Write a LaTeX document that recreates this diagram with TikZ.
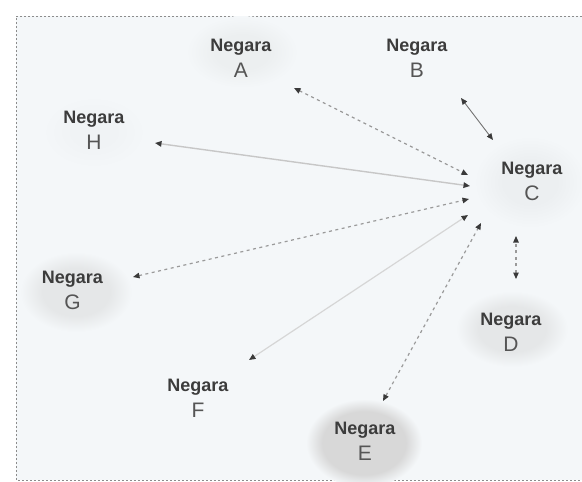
\documentclass[tikz,border=0pt]{standalone}
\usepackage{fontspec}
\setmainfont{Liberation Sans}
\usetikzlibrary{arrows.meta}
\definecolor{bgc}{HTML}{F4F7F9}
\definecolor{framec}{HTML}{8C8C8C}
\definecolor{negc}{HTML}{3C3C3C}
\definecolor{letc}{HTML}{555555}
\definecolor{dashc}{HTML}{9A9A9A}
\definecolor{tipc}{HTML}{3A3A3A}
\definecolor{blobE}{HTML}{D8D8D8}
\definecolor{blobG}{HTML}{E5E7E8}
\definecolor{blobD}{HTML}{E5E7E8}
\definecolor{blobA}{HTML}{ECEFF0}
\definecolor{blobC}{HTML}{ECEFF1}
\definecolor{blobF}{HTML}{F0F3F5}
\pgfdeclareradialshading{softE}{\pgfpoint{0bp}{0bp}}{color(0bp)=(blobE); color(18bp)=(blobE); color(25bp)=(bgc); color(50bp)=(bgc)}
\pgfdeclareradialshading{softG}{\pgfpoint{0bp}{0bp}}{color(0bp)=(blobG); color(15bp)=(blobG); color(25bp)=(bgc); color(50bp)=(bgc)}
\pgfdeclareradialshading{softD}{\pgfpoint{0bp}{0bp}}{color(0bp)=(blobD); color(15bp)=(blobD); color(25bp)=(bgc); color(50bp)=(bgc)}
\pgfdeclareradialshading{softA}{\pgfpoint{0bp}{0bp}}{color(0bp)=(blobA); color(12bp)=(blobA); color(25bp)=(bgc); color(50bp)=(bgc)}
\pgfdeclareradialshading{softC}{\pgfpoint{0bp}{0bp}}{color(0bp)=(blobC); color(12bp)=(blobC); color(25bp)=(bgc); color(50bp)=(bgc)}
\pgfdeclareradialshading{softF}{\pgfpoint{0bp}{0bp}}{color(0bp)=(blobF); color(10bp)=(blobF); color(25bp)=(bgc); color(50bp)=(bgc)}
\begin{document}
\begin{tikzpicture}[x=1pt,y=-1pt,
  country/.style={align=center,inner sep=0pt,text=negc,
    font=\fontsize{18}{26}\selectfont},
  tipstyle/.style={{Triangle[length=6.5pt,width=5.5pt,color=tipc]}-{Triangle[length=6.5pt,width=5.5pt,color=tipc]}},
  dashlink/.style={tipstyle,draw=dashc,line width=1.2pt,dash pattern=on 3pt off 3.5pt},
  solidlink/.style={tipstyle,line width=1.4pt},
  frameline/.style={draw=framec,line width=0.8pt,dash pattern=on 2pt off 2pt}
]
\useasboundingbox (0,0) rectangle (582,482);
\fill[white] (0,0) rectangle (582,482);
\fill[bgc] (16,16) rectangle (582,480);
\draw[frameline] (582,16) -- (16,16) -- (16,480) -- (582,480);
% soft blobs
\shade[shading=softE] (364,443) ellipse [x radius=58, y radius=44];
\shade[shading=softG] (76,292) ellipse [x radius=56, y radius=40];
\shade[shading=softD] (512,329) ellipse [x radius=56, y radius=38];
\shade[shading=softA] (242,52) ellipse [x radius=56, y radius=36];
\shade[shading=softC] (530,182) ellipse [x radius=56, y radius=46];
\shade[shading=softF] (94,132) ellipse [x radius=52, y radius=36];
% countries
\newcommand{\cname}[1]{{\bfseries Negara}\\{\fontsize{21}{26}\selectfont\color{letc}#1}}
\node[country] (A) at (241,58) {\cname{A}};
\node[country] (B) at (417,58) {\cname{B}};
\node[country] (H) at (94,130) {\cname{H}};
\node[country] (C) at (532,181) {\cname{C}};
\node[country] (G) at (72.5,290) {\cname{G}};
\node[country] (D) at (511,332) {\cname{D}};
\node[country] (F) at (198,398) {\cname{F}};
\node[country] (E) at (365,441) {\cname{E}};
% connector ends
\coordinate (a1) at (294,88);
\coordinate (c1) at (468,175);
\coordinate (b1) at (461,98);
\coordinate (c2) at (493,140);
\coordinate (h1) at (155,143);
\coordinate (c3) at (470,186);
\coordinate (g1) at (133,277);
\coordinate (c4) at (469,199);
\coordinate (f1) at (249,360);
\coordinate (c5) at (468,215);
\coordinate (e1) at (383,401);
\coordinate (c6) at (481,223);
\coordinate (d1) at (516,279);
\coordinate (c7) at (516,236);
% connectors
\draw[dashlink] (a1) -- (c1);
\draw[solidlink,draw=black!55,line width=0.9pt] (b1) -- (c2);
\draw[solidlink,draw=black!22] (h1) -- (c3);
\draw[dashlink] (g1) -- (c4);
\draw[solidlink,draw=black!16,line width=1.2pt] (f1) -- (c5);
\draw[dashlink] (e1) -- (c6);
\draw[dashlink] (d1) -- (c7);
\end{tikzpicture}
\end{document}
